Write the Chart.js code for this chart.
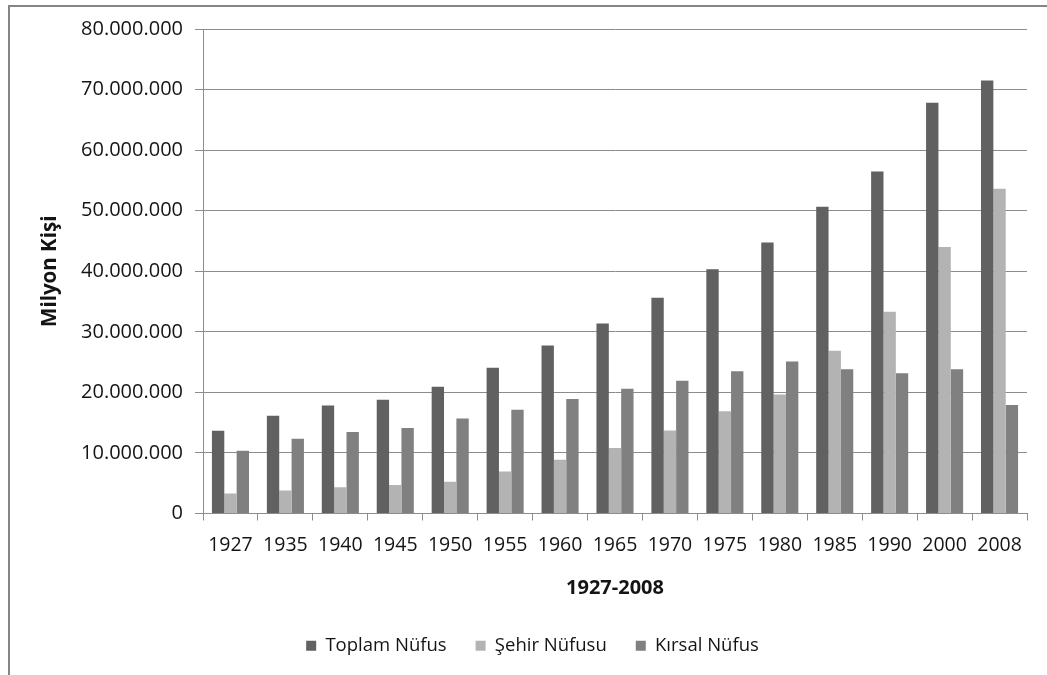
<!DOCTYPE html>
<html lang="tr">
<head>
<meta charset="utf-8">
<title>Türkiye Nüfusu 1927-2008</title>
<script src="https://cdn.jsdelivr.net/npm/chart.js@4/dist/chart.umd.min.js"></script>
<style>
  html, body { margin: 0; padding: 0; background: #ffffff; }
  #wrap { width: 1047px; height: 675px; }
</style>
</head>
<body>
<div id="wrap"><canvas id="chart" width="1047" height="675"></canvas></div>
<script>
// Census years
const years = ['1927', '1935', '1940', '1945', '1950', '1955', '1960', '1965',
               '1970', '1975', '1980', '1985', '1990', '2000', '2008'];

// Population by year
const toplamNufus = [13648000, 16158000, 17821000, 18790000, 20947000, 24065000, 27755000, 31391000,
                     35605000, 40348000, 44737000, 50664000, 56473000, 67804000, 71517000];
const sehirNufusu = [3306000, 3803000, 4346000, 4687000, 5244000, 6927000, 8860000, 10806000,
                     13691000, 16869000, 19645000, 26866000, 33326000, 44006000, 53612000];
const kirsalNufus = [10342000, 12355000, 13475000, 14103000, 15703000, 17137000, 18895000, 20586000,
                     21914000, 23479000, 25092000, 23799000, 23147000, 23798000, 17905000];

// Series names
const seriesNames = ['Toplam Nüfus', 'Şehir Nüfusu', 'Kırsal Nüfus'];

// Axis settings
const yMin = 0;
const yMax = 80000000;
const yStep = 10000000;
const yTitle = 'Milyon Kişi';
const xTitle = '1927-2008';

const FONT = '"Open Sans", "DejaVu Sans", sans-serif';
const TEXT = '#141414';
const GRID = '#8c8c8c';

function dotted(v) {
  return String(v).replace(/\B(?=(\d{3})+(?!\d))/g, '.');
}

// White page with the outer frame on the left and top edges
const pageFrame = {
  id: 'pageFrame',
  beforeDraw(chart) {
    const c = chart.ctx;
    c.save();
    c.fillStyle = '#ffffff';
    c.fillRect(0, 0, chart.width, chart.height);
    c.strokeStyle = '#858585';
    c.lineWidth = 2;
    c.beginPath();
    c.moveTo(9, chart.height);
    c.lineTo(9, 6);
    c.lineTo(chart.width, 6);
    c.stroke();
    c.restore();
  }
};

new Chart(document.getElementById('chart'), {
  type: 'bar',
  data: {
    labels: years,
    datasets: [
      { label: seriesNames[0], data: toplamNufus, backgroundColor: '#616161', borderColor: '#616161', borderWidth: 0 },
      { label: seriesNames[1], data: sehirNufusu, backgroundColor: '#b3b3b3', borderColor: '#b3b3b3', borderWidth: 0 },
      { label: seriesNames[2], data: kirsalNufus, backgroundColor: '#808080', borderColor: '#808080', borderWidth: 0 }
    ]
  },
  options: {
    responsive: false,
    devicePixelRatio: 1,
    animation: false,
    events: [],
    layout: { padding: { left: 38, right: 20, top: 29, bottom: 10 } },
    datasets: {
      bar: { categoryPercentage: 0.675, barPercentage: 1.0 }
    },
    scales: {
      x: {
        afterFit(axis) { axis.height = 94; },
        grid: {
          offset: true,
          drawOnChartArea: false,
          drawTicks: true,
          tickLength: 7,
          color: GRID
        },
        border: { display: true, color: GRID, width: 1 },
        ticks: {
          color: TEXT,
          font: { family: FONT, size: 19.5 },
          padding: 13,
          maxRotation: 0,
          autoSkip: false
        },
        title: {
          display: true,
          text: xTitle,
          color: TEXT,
          font: { family: FONT, size: 20, weight: 'bold' },
          padding: { top: 0, bottom: 7 }
        }
      },
      y: {
        min: yMin,
        max: yMax,
        afterFit(axis) { axis.width = 165; },
        grid: {
          color: GRID,
          drawTicks: true,
          tickLength: 8
        },
        border: { display: true, color: GRID, width: 1 },
        ticks: {
          stepSize: yStep,
          color: TEXT,
          font: { family: FONT, size: 20 },
          padding: 12,
          callback: (v) => dotted(v)
        },
        title: {
          display: true,
          text: yTitle,
          color: TEXT,
          font: { family: FONT, size: 20.5, weight: 'bold' },
          padding: { top: 0, bottom: 0 }
        }
      }
    },
    plugins: {
      legend: {
        display: true,
        position: 'bottom',
        labels: {
          color: TEXT,
          font: { family: FONT, size: 18.5 },
          boxWidth: 10,
          boxHeight: 10,
          padding: 29
        }
      },
      tooltip: { enabled: false },
      title: { display: false }
    }
  },
  plugins: [pageFrame]
});
</script>
</body>
</html>
